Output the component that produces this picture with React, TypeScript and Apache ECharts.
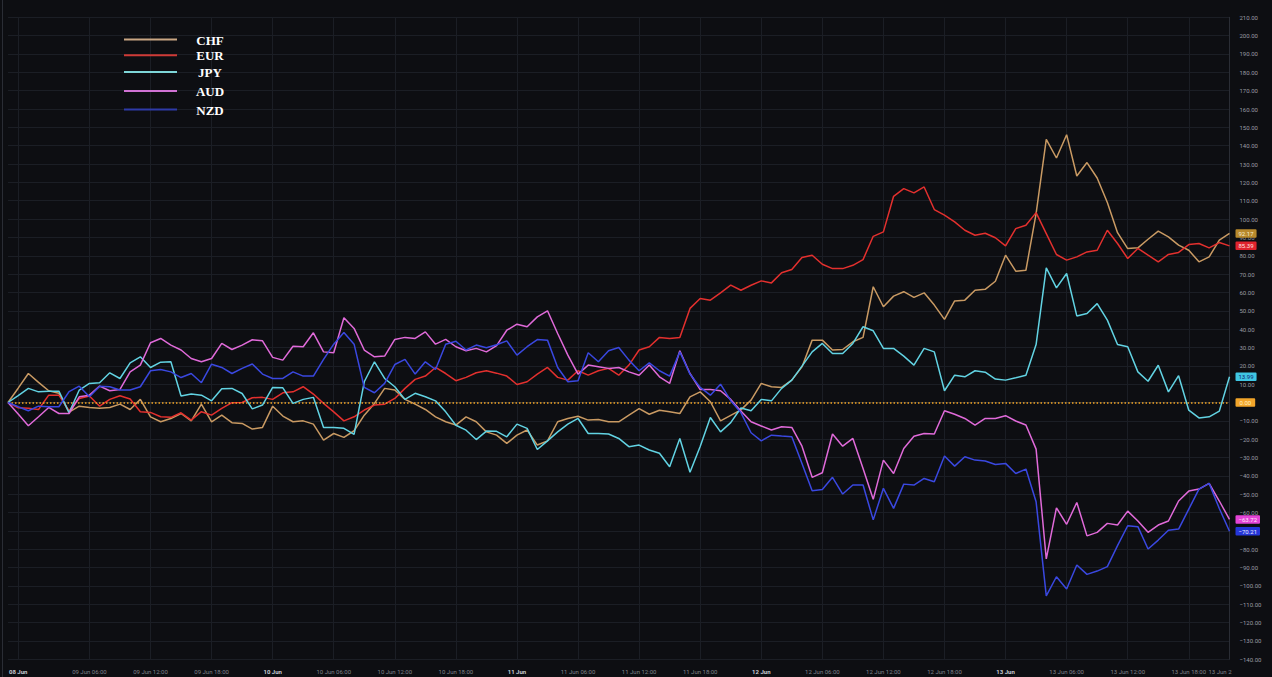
import React, { useEffect, useRef } from "react";
import * as echarts from "echarts";

// hourly points, first one at 08 Jun 22:00
const START_UTC = Date.UTC(2025, 5, 8, 22);
const POINTS = 121;
const pad = (n: number) => (n < 10 ? "0" + n : "" + n);
const categories: string[] = Array.from({ length: POINTS }, (_, i) => {
  const d = new Date(START_UTC + i * 3600000);
  return `${pad(d.getUTCDate())} Jun ${pad(d.getUTCHours())}:00`;
});

// x tick labels: [index, text, bold]
const xTicks: [number, string, boolean][] = [
  [1, "08 Jun", true],
  [8, "09 Jun 06:00", false],
  [14, "09 Jun 12:00", false],
  [20, "09 Jun 18:00", false],
  [26, "10 Jun", true],
  [32, "10 Jun 06:00", false],
  [38, "10 Jun 12:00", false],
  [44, "10 Jun 18:00", false],
  [50, "11 Jun", true],
  [56, "11 Jun 06:00", false],
  [62, "11 Jun 12:00", false],
  [68, "11 Jun 18:00", false],
  [74, "12 Jun", true],
  [80, "12 Jun 06:00", false],
  [86, "12 Jun 12:00", false],
  [92, "12 Jun 18:00", false],
  [98, "13 Jun", true],
  [104, "13 Jun 06:00", false],
  [110, "13 Jun 12:00", false],
  [116, "13 Jun 18:00", false],
  [120, "13 Jun 2", false],
];

const chf = [
  0, 7.8, 15.8, 11, 6.4, 5, -5.2, -2, -2.7, -3.2, -2.7, -0.9, -3.8, 1.7, -7.8, -10.5, -8.7, -6, -10, -0.9,
  -10.5, -6.9, -11, -11.4, -14.5, -13.6, -2, -7.4, -10.5, -10, -11.8, -20.5, -16.9, -19, -15.4, -6.9, -0.5, 7.7, 6.8, 1.7,
  -0.9, -3.8, -7.8, -10.5, -12.3, -7.8, -10.5, -16, -17.8, -22.3, -17.8, -15, -23.2, -20.9, -10.5, -8.7, -7.5, -9.6, -9.3, -10.5,
  -10.5, -6.9, -3.3, -6.4, -4.2, -5.1, -6, 3.1, 5.8, 0.4, -10, -7, -4, 1.3, 10.4, 8.6, 8.2, 12.2, 19.4, 34,
  34, 28.6, 28.9, 33.1, 35.5, 63.1, 52.2, 58, 60.4, 57.3, 59.8, 53.1, 45.3, 55.4, 55.8, 61.2, 61.7, 66.1, 80.3, 71.6,
  72.1, 103, 143.5, 133.3, 146, 123.5, 130.8, 122.4, 109, 92.6, 83.9, 84.3, 89, 93.4, 90.3, 85.8, 83, 76.7, 79.4, 88.5,
  92.17,
];
const eur = [
  0, -2.9, -3.2, -3.8, 4, 4, -4.5, 2.2, 3.5, -2, 1.7, 3.7, 1.9, -5, -5.4, -7.8, -8.1, -5.6, -9.6, -5,
  -6.9, -3.2, -0.1, 0, 2.6, 2.8, 1.7, 5.3, 5.8, 8.6, 4.6, -0.5, -5.1, -10, -7.8, -4.1, -1.4, -0.9, 2.2, 7.7,
  12.6, 14.4, 19.1, 15.8, 11.9, 13.7, 16.2, 17.3, 16, 14.4, 9.8, 11.3, 15.5, 19.1, 13.7, 12.2, 17.3, 14.9, 17.3, 18.6,
  14.9, 20.4, 28.6, 30.4, 35.5, 34.9, 35.5, 51.3, 56.7, 55.8, 59.8, 64, 61.2, 63.9, 66.3, 65.2, 70.7, 72.5, 79, 80.3,
  75.4, 73, 73, 74.8, 77.9, 90.6, 93, 112.4, 116.6, 114.3, 117.5, 105.2, 102.1, 98.5, 93.9, 91.2, 92.3, 89.8, 85.4, 94.8,
  96.6, 103.5, 92.1, 80.7, 77.6, 79.4, 82.1, 83, 93.9, 86.7, 78.5, 84, 80.3, 76.7, 80.7, 81.8, 86.1, 86.7, 84.3, 87.2,
  85.39,
];
const jpy = [
  0, 3.8, 7.7, 5.8, 6.2, 6.2, -5.6, 6.8, 10.4, 10.8, 16.2, 13.1, 21.6, 24.9, 19.1, 22, 22.2, 3.5, 4.6, 4,
  0.9, 7.5, 7.7, 4.9, -3.5, -1.4, 8.2, 8, -0.5, 1.7, 2.8, -13.6, -13.6, -14.1, -17.4, 11.3, 22.2, 13.1, 8.6, 1.7,
  5, 3.1, 0.9, -5.1, -12.4, -15.1, -20.2, -15.6, -15.7, -18.7, -11.8, -14.1, -25.6, -20.9, -16, -11.8, -8.7, -16.9, -16.9, -17.2,
  -19.6, -24.1, -23.2, -25.9, -27.7, -35, -19.6, -38, -24, -8.2, -16, -11, -3, -4.5, 1.7, 0.9, 7.7, 12.2, 19.8, 27.6,
  32.2, 26.7, 26.7, 32.2, 41.3, 39.1, 29.5, 29.5, 25.3, 20.4, 29.5, 27.6, 6.4, 14.9, 14, 17.3, 16.5, 12.8, 12.2, 13.5,
  14.9, 31.6, 73.4, 62.5, 70.3, 47.2, 48.5, 53.9, 44.9, 31.6, 30.4, 16.7, 11.6, 20.3, 5.8, 14.6, -4.2, -8.4, -7.8, -4.7,
  13.99,
];
const aud = [
  0, -6.3, -12.7, -7.8, -2.7, -6, -6, 3.1, 4, 8.9, 6.4, 7.1, 16.7, 20.4, 32.6, 34.9, 31.3, 28.6, 24, 22.2,
  24, 32.2, 28.9, 31.3, 34.2, 33.6, 24.6, 23.1, 30.7, 30.4, 38, 27.6, 27.1, 46.2, 40.4, 28.6, 24.9, 25.3, 34.4, 35.5,
  34.9, 38.5, 31.8, 34.4, 30.4, 28.2, 29.5, 27.6, 31, 39.4, 42.7, 41.3, 46.7, 50, 37.6, 25.8, 15.5, 20.4, 19.5, 18.6,
  19.1, 16.7, 14.9, 20.4, 14, 10.4, 28.2, 15.8, 7.1, 7.1, 6.4, 1.7, -4.6, -10.5, -12.8, -15, -13.2, -13.6, -23.8, -40.8,
  -38.3, -17.2, -23.8, -19.6, -36, -52.8, -31.4, -38.7, -25.1, -18.4, -16.9, -17.2, -4.5, -6.4, -8.7, -12.3, -8.7, -8.7, -7.2, -10.1,
  -12.3, -25.4, -85.3, -57.4, -66.4, -54.5, -72.7, -70.8, -65.9, -66.8, -59.2, -64.6, -70.8, -66.8, -64.6, -53.7, -48.3, -47.2, -44.1, -53.7,
  -63.72,
];
const nzd = [
  0, -2.3, -4.5, -2, -2.3, -2.3, 5.9, 8.9, 3.1, 8.9, 8.6, 6.8, 6.8, 8.6, 17.3, 18, 16.7, 13.6, 15.8, 10.8,
  20.9, 19.1, 15.8, 18.6, 21, 15.5, 13.1, 13.1, 16.7, 14.4, 14.4, 23.5, 31.8, 38.2, 31.8, 8.2, 5.3, 10.4, 20.7, 23.5,
  15.5, 22.2, 18, 31.8, 33.4, 28.6, 31.3, 29.8, 31.5, 33.6, 25.8, 30.4, 34.3, 34, 19.1, 11.3, 11.8, 27.1, 22.2, 28.2,
  30, 23.1, 17.3, 21.6, 17.3, 14.4, 27.6, 15.5, 8.2, 4, 10, 1, -5.5, -16.5, -20.9, -17.8, -18.3, -18.7, -33.2, -48.1,
  -47.4, -40.8, -49.9, -45, -45, -64, -46.8, -57.7, -44.5, -45, -41.4, -43.2, -29.2, -34.7, -29.6, -31.4, -31.9, -33.8, -33.2, -38.7,
  -36.3, -54.1, -105.4, -95, -101.7, -88.6, -93.7, -91.9, -89.5, -78, -67.2, -67.7, -79.9, -75, -69.6, -69, -58.1, -47.2, -44.1, -57.8,
  -70.21,
];

const seriesNames = ["CHF", "EUR", "JPY", "AUD", "NZD"];
const seriesData = [chf, eur, jpy, aud, nzd];
const lineColors = ["#c99a63", "#e3302e", "#62d3e3", "#e06ad9", "#3a48e0"];
const boxColors = ["#b8892c", "#e0232d", "#3fc6e3", "#e444d6", "#2536d9"];
const boxTextColors = ["#f6ecd0", "#ffe0e0", "#12246e", "#ffe8fb", "#e8ebff"];
const legendLineColors = ["#c9a683", "#cf3a36", "#7ed6d8", "#d072d4", "#2e3aa8"];
const legendY = [39.5, 55.3, 72, 91, 109.5];

const fmt = (v: number) => (v < 0 ? "\u2212" + Math.abs(v).toFixed(2) : v.toFixed(2));

export default function App() {
  const ref = useRef<HTMLDivElement>(null);
  useEffect(() => {
    if (!ref.current) return;
    const chart = echarts.init(ref.current, undefined, { renderer: "svg" });
    const tickMap = new Map<number, [string, boolean]>();
    xTicks.forEach(([i, t, b]) => tickMap.set(i, [t, b]));
    const last = POINTS - 1;

    const series: any[] = seriesNames.map((name, k) => ({
      name,
      type: "line",
      data: seriesData[k],
      symbol: "none",
      z: 3 + k,
      lineStyle: { color: lineColors[k], width: 1.5 },
      itemStyle: { color: lineColors[k] },
      endLabel: {
        show: true,
        formatter: (p: any) => fmt(p.value),
        backgroundColor: boxColors[k],
        color: boxTextColors[k],
        fontSize: 6,
        fontFamily: "Roboto",
        padding: [1.5, 3, 1, 3],
        borderRadius: 1,
        distance: 6,
      },
    }));
    series[0].markLine = {
      silent: true,
      symbol: ["none", "none"],
      data: [{ yAxis: 0 }],
      lineStyle: { color: "#f5a623", width: 1.5, type: [1.5, 2] },
      label: {
        show: true,
        position: "end",
        formatter: "0.00",
        backgroundColor: "#f2a52a",
        color: "#fff0c2",
        fontSize: 6,
        fontFamily: "Roboto",
        padding: [1.5, 4, 1, 4],
        borderRadius: 1,
        distance: 6,
      },
    };

    const graphic: any[] = [
      { type: "line", shape: { x1: 2.5, y1: 0, x2: 2.5, y2: 677 }, style: { stroke: "#2a2d35", lineWidth: 1 } },
    ];
    seriesNames.forEach((name, k) => {
      graphic.push({
        type: "line",
        shape: { x1: 124, y1: legendY[k], x2: 177, y2: legendY[k] },
        style: { stroke: legendLineColors[k], lineWidth: 2 },
        z: 20,
      });
      graphic.push({
        type: "text",
        x: 210,
        y: legendY[k] + 0.5,
        style: {
          text: name,
          fill: "#ffffff",
          font: 'bold 13px "Liberation Serif"',
          align: "center",
          verticalAlign: "middle",
        },
        z: 20,
      });
    });

    chart.setOption({
      animation: false,
      backgroundColor: "#0d0e12",
      grid: { left: 8, right: 42.5, top: 17.3, bottom: 17.7, containLabel: false },
      xAxis: {
        type: "category",
        data: categories,
        boundaryGap: false,
        axisLine: { show: true, lineStyle: { color: "#2a2d35" } },
        axisTick: { show: false },
        axisLabel: {
          interval: (i: number) => tickMap.has(i),
          margin: 9,
          formatter: (_v: string, i: number) => {
            const t = tickMap.get(i);
            if (!t) return "";
            if (i === last) return `{e|${t[0]}}`;
            return t[1] ? `{b|${t[0]}}` : `{n|${t[0]}}`;
          },
          rich: {
            b: { fontSize: 6, fontWeight: "bold", color: "#c8cbd2", fontFamily: "Roboto" },
            n: { fontSize: 6, color: "#80838b", fontFamily: "Roboto" },
            e: { fontSize: 6, color: "#80838b", fontFamily: "Roboto", padding: [0, 19, 0, 0] },
          },
        },
        splitLine: {
          show: true,
          interval: (i: number) => tickMap.has(i) && i !== last,
          lineStyle: { color: "#1b1e25", width: 1 },
        },
      },
      yAxis: {
        type: "value",
        position: "right",
        min: -140,
        max: 210,
        interval: 10,
        axisLine: { show: true, lineStyle: { color: "#2a2d35" } },
        axisTick: { show: false },
        axisLabel: {
          formatter: (v: number) => fmt(v),
          color: "#9a9ca3",
          fontSize: 6,
          fontFamily: "Roboto",
          margin: 10,
        },
        splitLine: { show: true, lineStyle: { color: "#1b1e25", width: 1 } },
      },
      graphic,
      series,
    });
    return () => chart.dispose();
  }, []);
  return (
    <div
      ref={ref}
      style={{ position: "absolute", left: 0, top: 0, width: 1272, height: 677 }}
    />
  );
}
